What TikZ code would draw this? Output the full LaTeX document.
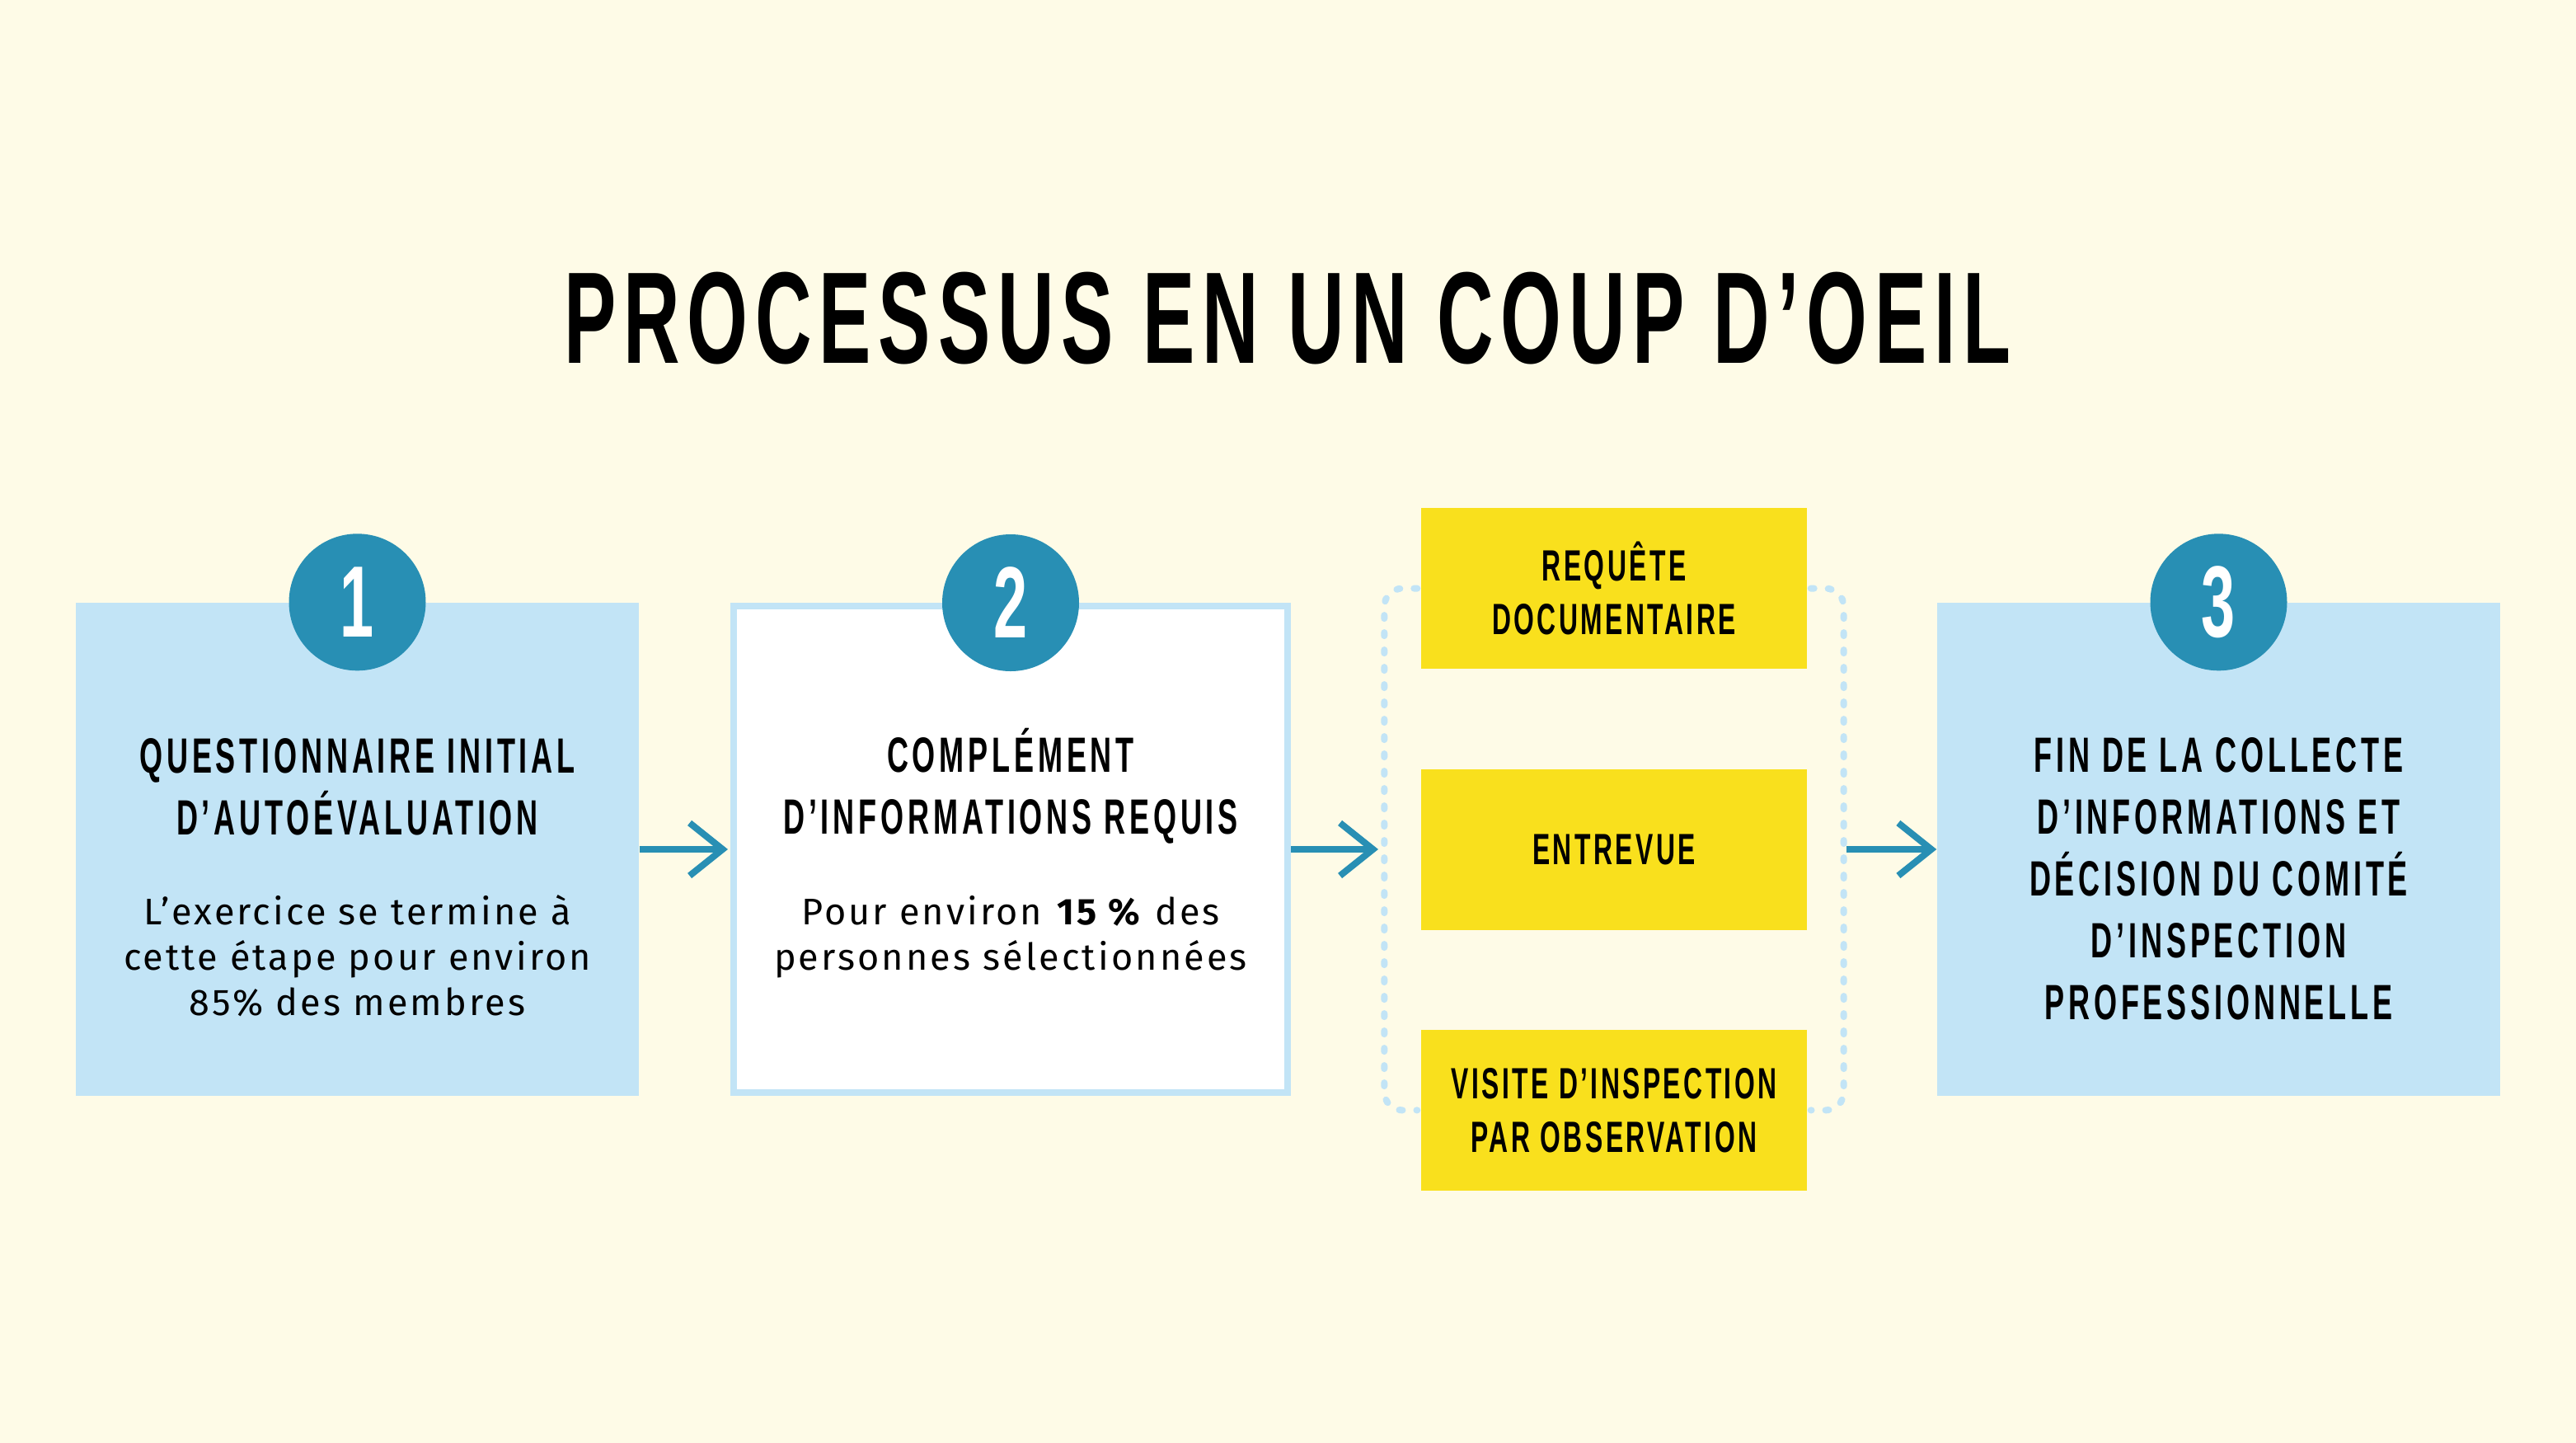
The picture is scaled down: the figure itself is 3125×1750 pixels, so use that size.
\documentclass[tikz,border=0pt]{standalone}
\usepackage{fontspec}
\setmainfont{Fira Sans}[LetterSpace=7]
\newfontfamily\titlefont{Liberation Sans Bold}[FakeStretch=0.6,LetterSpace=5.6]
\usetikzlibrary{positioning,arrows.meta}
\definecolor{creme}{HTML}{FEFBE7}
\definecolor{bleuclair}{HTML}{C2E4F6}
\definecolor{bleu}{HTML}{288FB4}
\definecolor{jaune}{HTML}{F9E01D}

\begin{document}
\begin{tikzpicture}[x=0.1mm,y=-0.1mm,
	box/.style={minimum width=68.3mm,minimum height=59.8mm,inner sep=0pt},
	stepnum/.style={circle,fill=bleu,minimum size=16.6mm,inner sep=0pt,text=white,font=\titlefont\fontsize{35}{35}\selectfont},
	head/.style={align=center,inner sep=0pt,anchor=base,font=\titlefont\fontsize{17.1}{21.3}\selectfont\addfontfeature{LetterSpace=8}},
	body/.style={align=center,inner sep=0pt,anchor=base,font=\fontsize{12.8}{15.6}\selectfont},
	option/.style={fill=jaune,minimum width=46.8mm,minimum height=19.5mm,inner sep=0pt,align=center,font=\titlefont\fontsize{15.1}{18.5}\selectfont\addfontfeature{LetterSpace=6.5}},
	flow/.style={color=bleu,line width=0.8mm,-{Straight Barb[length=4mm,width=6.4mm]}},
	pointille/.style={draw=bleuclair,line width=0.8mm,line cap=round,dash pattern=on 0.4mm off 1.7mm,rounded corners=2.2mm}
	]
	\fill[creme] (0,0) rectangle (3125,1750);
	\node[anchor=base,inner sep=0pt,font=\titlefont\fontsize{45}{45}\selectfont] (titre) at (1562,440) {PROCESSUS EN UN COUP D’OEIL};

	\node[box,fill=bleuclair] (q1) at (433.5,1030) {};
	\node[box,fill=white,draw=bleuclair,line width=0.8mm,minimum width=67.2mm,minimum height=59mm] (q2) at (1226,1030) {};
	\node[box,fill=bleuclair] (q3) at (2691.5,1030) {};
	\node[stepnum] (n1) at (q1.north) {1};
	\node[stepnum] (n2) at (q2.north) {2};
	\node[stepnum] (n3) at (q3.north) {3};

	\node[head] (q1titre) at (433.5,1012) {QUESTIONNAIRE INITIAL\\D’AUTOÉVALUATION};
	\node[body] (q1texte) at (433.5,1231) {L’exercice se termine à\\cette étape pour environ\\85\% des membres};
	\node[head] (q2titre) at (1226,1011) {COMPLÉMENT\\D’INFORMATIONS REQUIS};
	\node[body] (q2texte) at (1226,1176) {Pour environ \textbf{15~\%} des\\personnes sélectionnées};
	\node[head] (q3titre) at (2691.5,1236) {FIN DE LA COLLECTE\\D’INFORMATIONS ET\\DÉCISION DU COMITÉ\\D’INSPECTION\\PROFESSIONNELLE};

	\node[option] (entrevue) at (1958,1030) {ENTREVUE};
	\node[option,above=12mm of entrevue] (requete) {REQUÊTE\\DOCUMENTAIRE};
	\node[option,below=12mm of entrevue] (visite) {VISITE D’INSPECTION\\PAR OBSERVATION};
	\draw[pointille] ([xshift=-0.4mm]requete.west) -- ++(-40,0) |- ([xshift=-0.4mm]visite.west);
	\draw[pointille] ([xshift=0.4mm]requete.east) -- ++(40,0) |- ([xshift=0.4mm]visite.east);
	\coordinate (gauche) at (1680,1030);
	\coordinate (droite) at (2237,1030);

	\path[flow]
		(q1) edge[shorten >=0.3mm] (q2)
		(q2) edge[shorten >=0.8mm] (gauche)
		(droite) edge[shorten <=0.3mm] (q3);
\end{tikzpicture}
\end{document}
